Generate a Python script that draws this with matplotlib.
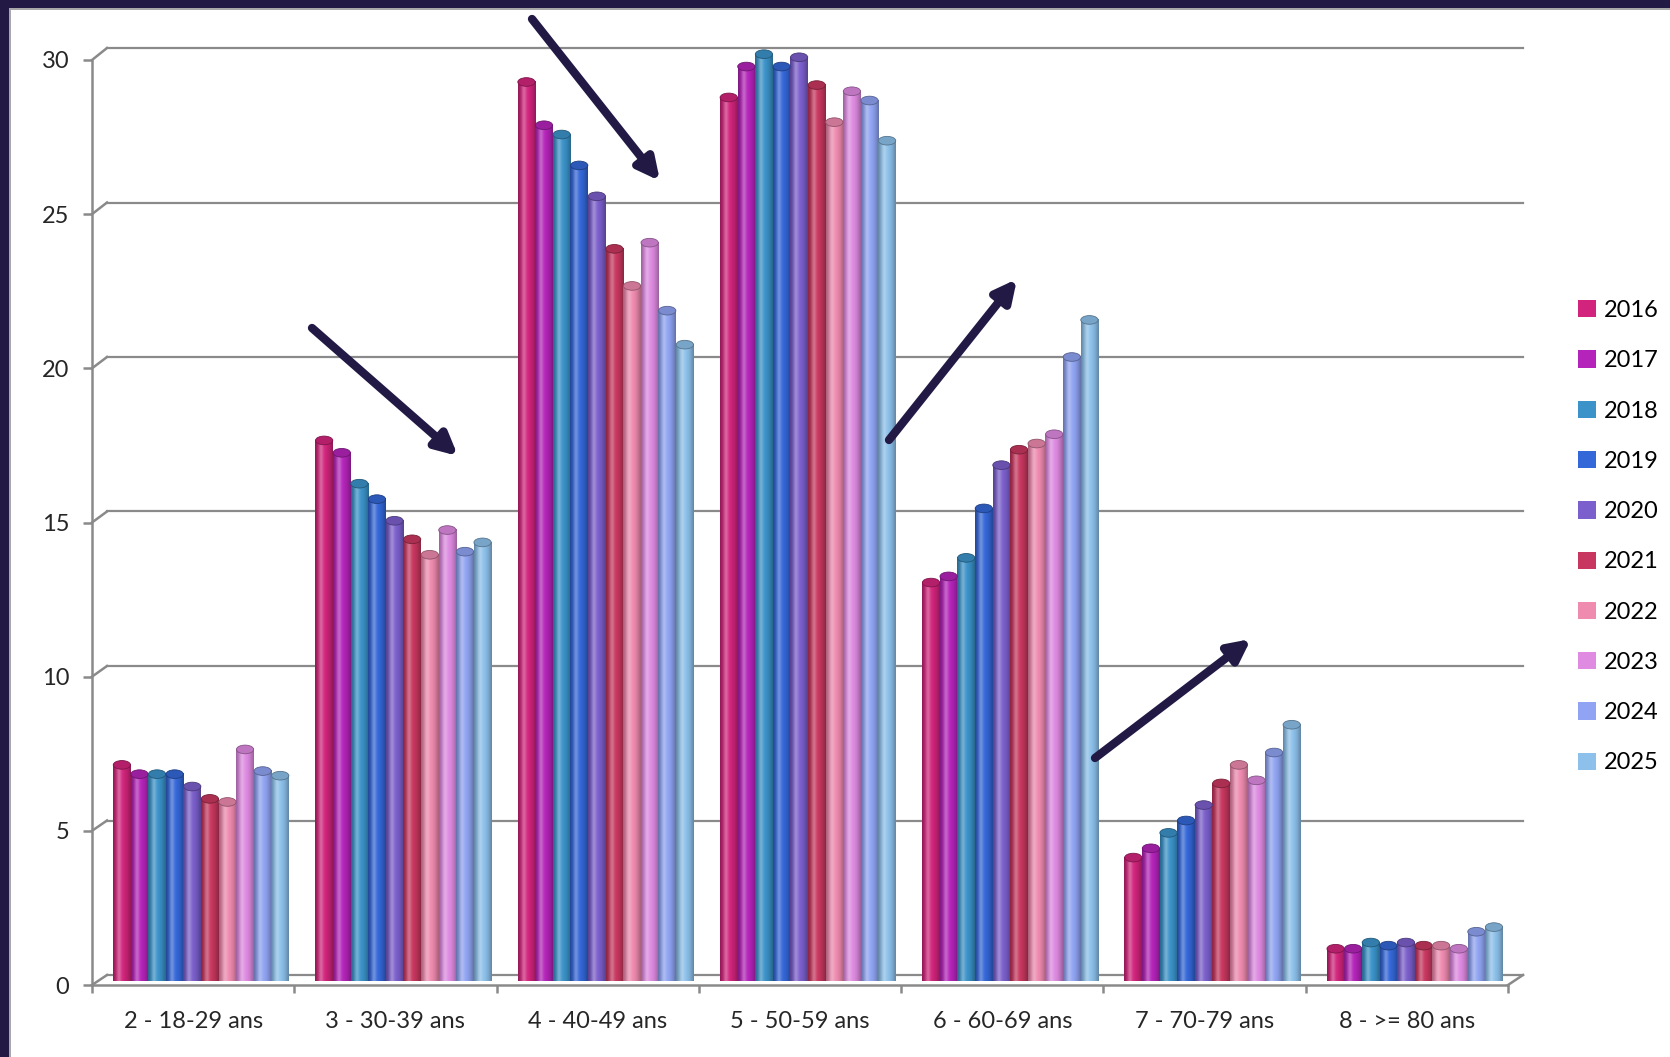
import numpy as np
import matplotlib
matplotlib.use('Agg')
import matplotlib.pyplot as plt
from matplotlib.patches import Patch, Rectangle, Ellipse
from matplotlib.lines import Line2D

plt.rcParams['font.family'] = ['Lato', 'DejaVu Sans']

# data
groups = ['2 - 18-29 ans', '3 - 30-39 ans', '4 - 40-49 ans', '5 - 50-59 ans',
          '6 - 60-69 ans', '7 - 70-79 ans', '8 - >= 80 ans']
years = ['2016', '2017', '2018', '2019', '2020',
         '2021', '2022', '2023', '2024', '2025']
colors = ['#D2247C', '#B524BA', '#3B93C9', '#3467D8', '#7B5FCC',
          '#C8375F', '#F08BB0', '#DF8BE2', '#90A4F3', '#8DC1EB']

v2016 = [6.8, 17.3, 28.9, 28.4, 12.7, 3.8, 0.85]
v2017 = [6.5, 16.9, 27.5, 29.4, 12.9, 4.1, 0.85]
v2018 = [6.5, 15.9, 27.2, 29.8, 13.5, 4.6, 1.05]
v2019 = [6.5, 15.4, 26.2, 29.4, 15.1, 5.0, 0.95]
v2020 = [6.1, 14.7, 25.2, 29.7, 16.5, 5.5, 1.05]
v2021 = [5.7, 14.1, 23.5, 28.8, 17.0, 6.2, 0.95]
v2022 = [5.6, 13.6, 22.3, 27.6, 17.2, 6.8, 0.95]
v2023 = [7.3, 14.4, 23.7, 28.6, 17.5, 6.3, 0.85]
v2024 = [6.6, 13.7, 21.5, 28.3, 20.0, 7.2, 1.4]
v2025 = [6.45, 14.0, 20.4, 27.0, 21.2, 8.1, 1.55]
values = [v2016, v2017, v2018, v2019, v2020,
          v2021, v2022, v2023, v2024, v2025]

W, H = 1670, 1057
fig = plt.figure(figsize=(W / 100, H / 100), dpi=100)
fig.patch.set_facecolor('white')

# back wall axes (where bars and gridlines live)
ax = fig.add_axes([107 / W, 1 - 975 / H, 1416 / W, 927 / H])
# front axes (holds the axis lines, ticks and labels)
axf = fig.add_axes([92 / W, 1 - 985 / H, 1416 / W, 925 / H])
axf.patch.set_alpha(0)
ax.patch.set_alpha(0)

grey = '#8a8a8a'
yticks = np.arange(0, 31, 5)

for a in (ax, axf):
    a.set_xlim(0, 7)
    a.set_ylim(0, 30)

ax.axis('off')
for v in yticks:
    ax.plot([0, 7], [v, v], color=grey, lw=1.6, zorder=1, clip_on=False)

# bars with a cylinder-like shading
n = len(years)
bw = 0.087
shift = -0.035
floor = -0.2  # bars stand a little in front of the back wall
t = np.linspace(0, 1, 40)
prof = 0.70 + 0.30 * np.sin(np.pi * t)
hi = 0.30 * np.exp(-((t - 0.33) / 0.14) ** 2)
for i, (vals, c) in enumerate(zip(values, colors)):
    base = np.array(matplotlib.colors.to_rgb(c))
    img = base[None, :] * prof[:, None]
    img = img + (1 - img) * hi[:, None]
    img = np.clip(img, 0, 1)[None, :, :]
    for g, v in enumerate(vals):
        x0 = g + 0.5 + shift + (i - n / 2) * bw
        ax.bar(x0, v - floor, bottom=floor, width=bw, align='edge',
               color=c, zorder=2, clip_on=False)
        im = ax.imshow(img, extent=[x0, x0 + bw, floor, v], aspect='auto',
                       interpolation='bilinear', zorder=3)
        im.set_clip_on(False)
        cap = Ellipse((x0 + bw / 2, v), bw * 0.98, 0.28,
                      facecolor=base * 0.85, edgecolor=base * 0.6,
                      lw=0.6, zorder=4)
        ax.add_patch(cap)
ax.set_xlim(0, 7)
ax.set_ylim(0, 30)

# front axis styling
for s in ('top', 'right'):
    axf.spines[s].set_visible(False)
for s in ('left', 'bottom'):
    axf.spines[s].set_color(grey)
    axf.spines[s].set_linewidth(1.8)
axf.set_yticks(yticks)
axf.set_yticklabels([str(v) for v in yticks])
axf.set_xticks(np.arange(0, 8))
axf.set_xticklabels([])
axf.set_xticks(np.arange(7) + 0.5, minor=True)
axf.set_xticklabels(groups, minor=True)
axf.tick_params(axis='y', length=6.5, width=1.8, color=grey,
                labelsize=17, labelcolor='#262626', pad=10)
axf.tick_params(axis='x', which='major', length=6, width=1.8, color=grey)
axf.tick_params(axis='x', which='minor', length=0, labelsize=17,
                labelcolor='#262626', pad=19)

# diagonal connectors between front axis and back wall
fig.canvas.draw()
for v in yticks:
    p0 = axf.transData.transform((0, v))
    p1 = ax.transData.transform((0, v))
    fig.add_artist(Line2D([p0[0], p1[0]], [p0[1], p1[1]], transform=None,
                          color=grey, lw=1.8))
p0 = axf.transData.transform((7, 0))
p1 = ax.transData.transform((7, 0))
fig.add_artist(Line2D([p0[0], p1[0]], [p0[1], p1[1]], transform=None,
                      color=grey, lw=1.8))

# legend
handles = [Patch(facecolor=c, edgecolor='none') for c in colors]
fig.legend(handles, years, loc='upper left',
           bbox_to_anchor=(1578 / W, 1 - 300 / H), frameon=False,
           fontsize=17, handlelength=0.75, handleheight=0.75,
           handletextpad=0.35, labelspacing=1.24, borderpad=0,
           borderaxespad=0)

# arrows (figure pixel coordinates, y from top)
arrows = [((532, 19), (660, 181)), ((312, 328), (458, 456)),
          ((889, 440), (1017, 279)), ((1095, 758), (1251, 639))]
navy = '#221A45'
for (sx, sy), (ex, ey) in arrows:
    fig.add_artist(matplotlib.patches.FancyArrowPatch(
        (sx / W, 1 - sy / H), (ex / W, 1 - ey / H),
        transform=fig.transFigure, arrowstyle='-|>', mutation_scale=32,
        lw=6, color=navy, shrinkA=0, shrinkB=0))

# dark frame at left and top
fig.add_artist(Rectangle((0, 0), 9 / W, 1, transform=fig.transFigure,
                         color=navy, lw=0))
fig.add_artist(Rectangle((0, 1 - 8 / H), 1, 8 / H, transform=fig.transFigure,
                         color=navy, lw=0))
fig.add_artist(Rectangle((9 / W, 0), 2 / W, 1 - 8 / H,
                         transform=fig.transFigure, color='#a8a8a8', lw=0))
fig.add_artist(Rectangle((9 / W, 1 - 10 / H), 1, 2 / H,
                         transform=fig.transFigure, color='#a8a8a8', lw=0))

fig.savefig('out.png', dpi=100)
